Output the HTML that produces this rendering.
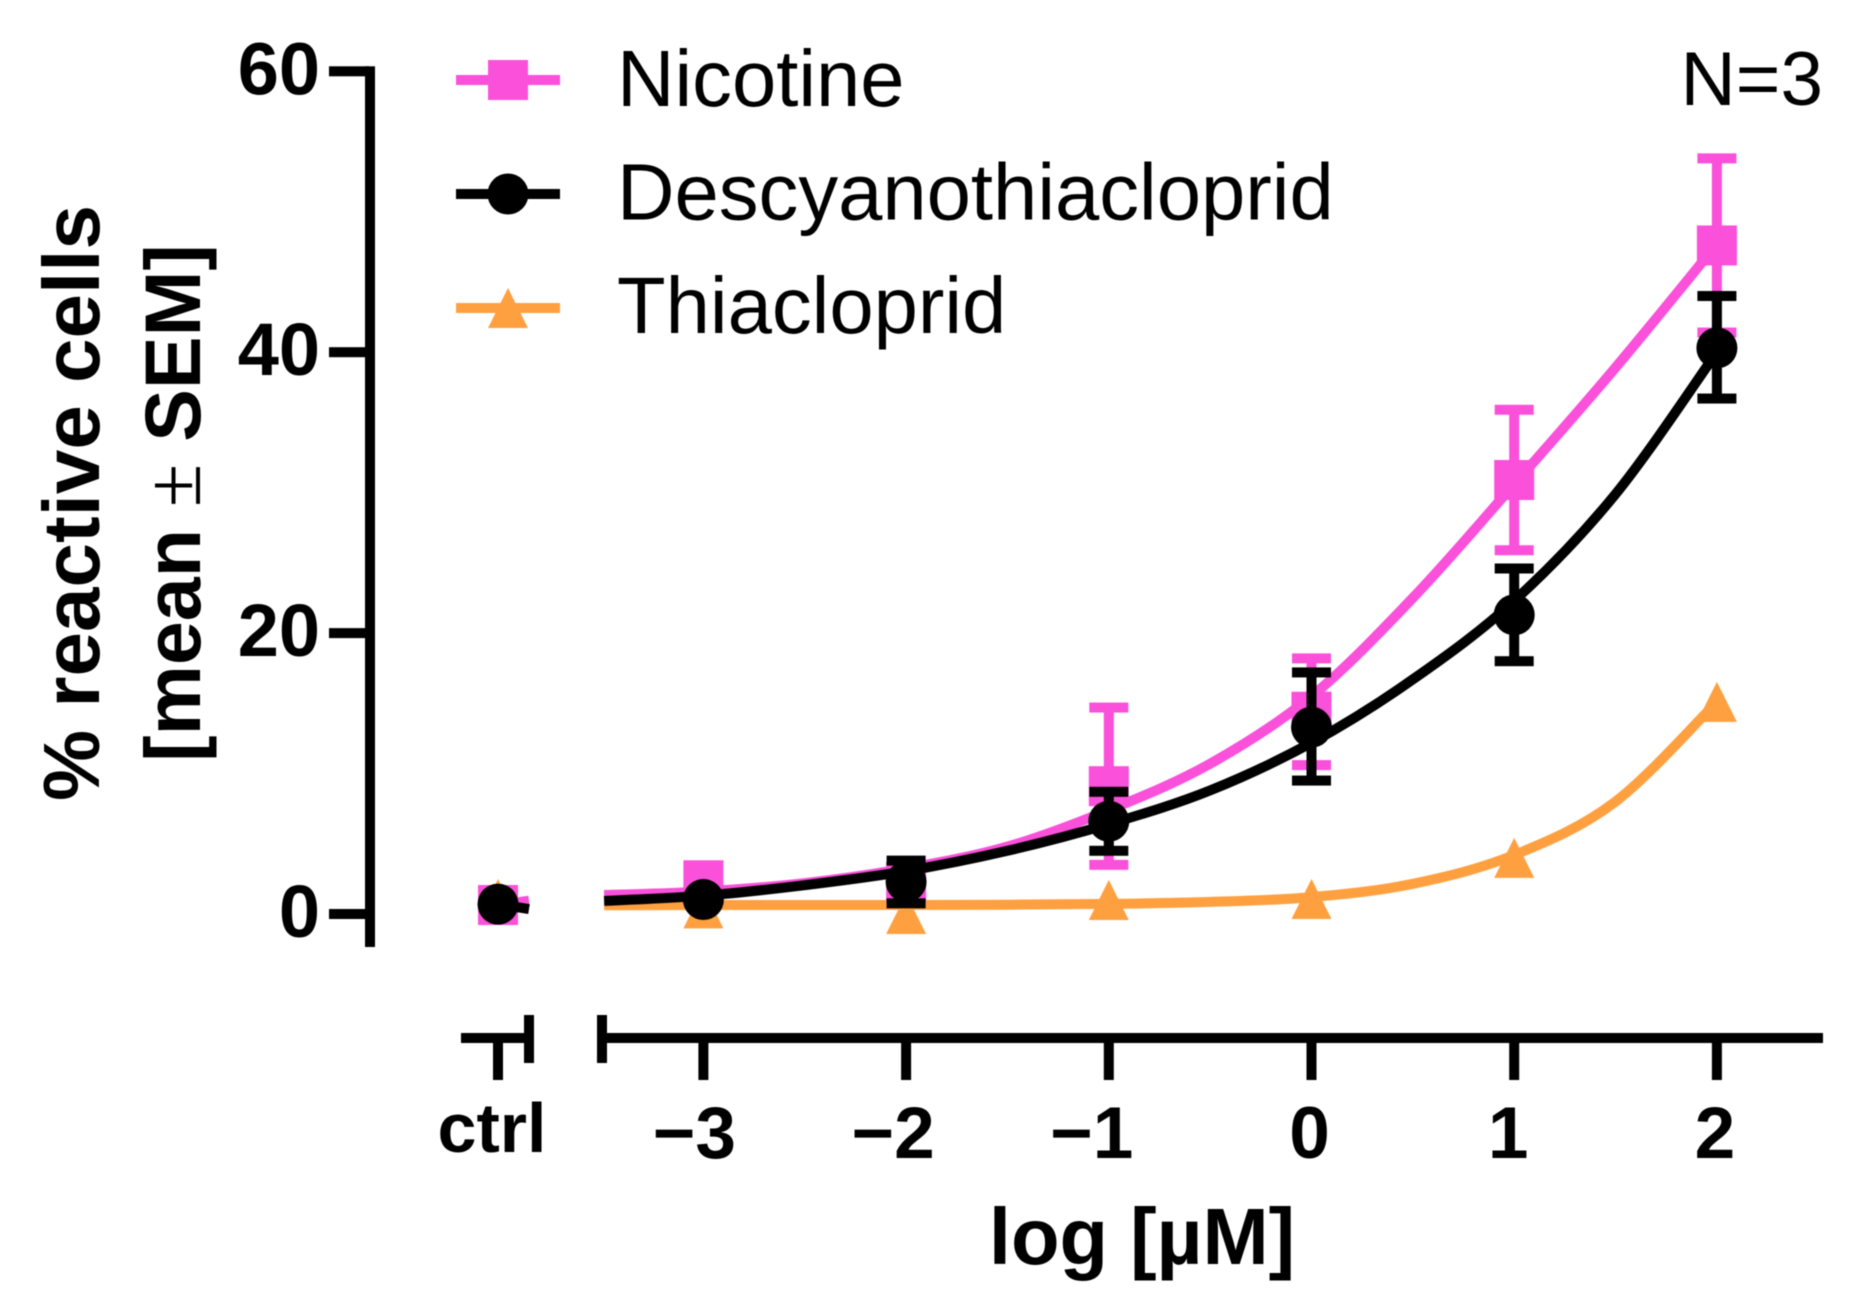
<!DOCTYPE html>
<html lang="en">
<head>
<meta charset="utf-8">
<title>Dose response: % reactive cells</title>
<style>
html,body{margin:0;padding:0;background:#fff;width:1854px;height:1307px;overflow:hidden}
svg{display:block;font-family:"Liberation Sans",Arial,sans-serif;filter:blur(0.6px)}
</style>
</head>
<body>
<svg id="chart" xmlns="http://www.w3.org/2000/svg" width="1854" height="1307" viewBox="0 0 1854 1307">
  <rect x="0" y="0" width="1854" height="1307" fill="#fff"/>
  <g id="axes"></g>
  <g id="series"></g>
  <text transform="translate(99,503) rotate(-90)" text-anchor="middle" font-size="80" font-weight="700" fill="#000">% reactive cells</text>
  <text transform="translate(200,503) rotate(-90)" text-anchor="middle" font-size="79" font-weight="700" fill="#000">[mean <tspan font-weight="400" font-family="'Liberation Serif',serif">±</tspan> SEM]</text>
  <text x="1142" y="1264" text-anchor="middle" font-size="79.5" font-weight="700" fill="#000">log [µM]</text>
  <text x="1823" y="105" text-anchor="end" font-size="76.5" fill="#000">N=3</text>
  <g id="legend"></g>
</svg>
<script>
// ---- data ----
const yTicks = [0, 20, 40, 60];
const xTicks = [-3, -2, -1, 0, 1, 2];
const xTickLabels = ['\u22123', '\u22122', '\u22121', '0', '1', '2'];
const ctrlLabel = 'ctrl';

const nicotineMean = [2.4, 2.3, 9.1, 14.4, 30.9, 47.6];
const nicotineUpper = [2.4, 3.4, 14.7, 18.2, 35.9, 53.8];
const nicotineLower = [2.4, 1.2, 3.5, 10.6, 25.9, 41.4];
const nicotineCtrl = 0.64;
const nicotineCurve = [1.35, 1.6, 2.2, 3.25, 4.8, 7.4, 10.7, 15.5, 22.5, 30.6, 38.9, 47.7];

const descyanoMean = [1.03, 2.3, 6.6, 13.3, 21.3, 40.3];
const descyanoUpper = [1.03, 3.8, 8.7, 17.2, 24.6, 44.0];
const descyanoLower = [1.03, 0.76, 4.5, 9.5, 18.0, 36.7];
const descyanoCtrl = 0.7;
const descyanoCurve = [0.93, 1.3, 2.05, 3.05, 4.5, 6.4, 8.8, 12.2, 16.7, 22.3, 29.9, 40.0];

const thiaclopridMean = [0.4, 0.0, 1.0, 1.07, 4.0, 15.1];
const thiaclopridCtrl = 1.07;
const thiaclopridCurve = [0.62, 0.64, 0.64, 0.64, 0.66, 0.72, 0.86, 1.2, 2.15, 4.2, 8.0, 15.1];

const curveLogs = [-3.49, -3, -2.5, -2, -1.5, -1, -0.5, 0, 0.5, 1, 1.5, 2];
const nicotineStub = [0.64, 0.95];
const descyanoStub = [0.7, 0.35];

const legendNames = ['Nicotine', 'Descyanothiacloprid', 'Thiacloprid'];

// ---- axis functions ----
const PINK = '#fa50da', ORANGE = '#ffa040', BLACK = '#000';
const yScale = v => 914 - v * 14.045;
const xScale = v => 1311.5 + v * 202.7;
const CTRL_X = 498;
const STUB_END_X = 529;
const NS = 'http://www.w3.org/2000/svg';
const labelNudge = {'-3': -9, '-2': -13, '-1': -17, '0': -2, '1': -6, '2': -2};

function make(parent, tag, attrs, text) {
  const node = document.createElementNS(NS, tag);
  for (const k in attrs) node.setAttribute(k, attrs[k]);
  if (text !== undefined) node.textContent = text;
  parent.appendChild(node);
  return node;
}

function smoothPath(pts) {
  let d = 'M' + pts[0][0].toFixed(1) + ' ' + pts[0][1].toFixed(1);
  for (let i = 0; i < pts.length - 1; i++) {
    const p0 = pts[Math.max(i - 1, 0)], p1 = pts[i], p2 = pts[i + 1], p3 = pts[Math.min(i + 2, pts.length - 1)];
    const c1x = p1[0] + (p2[0] - p0[0]) / 6, c1y = p1[1] + (p2[1] - p0[1]) / 6;
    const c2x = p2[0] - (p3[0] - p1[0]) / 6, c2y = p2[1] - (p3[1] - p1[1]) / 6;
    d += 'C' + c1x.toFixed(1) + ' ' + c1y.toFixed(1) + ' ' + c2x.toFixed(1) + ' ' + c2y.toFixed(1) + ' ' + p2[0].toFixed(1) + ' ' + p2[1].toFixed(1);
  }
  return d;
}

function drawMarker(parent, shape, cx, cy, color, seriesName) {
  let m;
  if (shape === 'square') {
    m = make(parent, 'rect', {x: cx - 20, y: cy - 20, width: 40, height: 40, fill: color});
  } else if (shape === 'circle') {
    m = make(parent, 'circle', {cx: cx, cy: cy, r: 20.5, fill: color});
  } else {
    m = make(parent, 'polygon', {points: (cx) + ',' + (cy - 20) + ' ' + (cx + 20) + ',' + (cy + 20) + ' ' + (cx - 20) + ',' + (cy + 20), fill: color});
  }
  
  
  return m;
}

// ---- axes ----
const axes = document.getElementById('axes');
const yLine = make(axes, 'rect', {x: 365, y: yScale(60) - 5, width: 10, height: yScale(0) + 33 - yScale(60) + 5, fill: BLACK});



yTicks.forEach(v => {
  const t = make(axes, 'rect', {x: 329, y: yScale(v) - 5, width: 40, height: 10, fill: BLACK});
  
  
  const l = make(axes, 'text', {x: 320, y: yScale(v) + 23, 'text-anchor': 'end', 'font-size': 74, 'font-weight': 700, fill: BLACK}, String(v));
  
  
});

const ctrlAxis = make(axes, 'rect', {x: 461, y: 1033, width: 68, height: 10, fill: BLACK});


const ctrlCap = make(axes, 'rect', {x: 524, y: 1015, width: 10, height: 48, fill: BLACK});


const ctrlTick = make(axes, 'rect', {x: CTRL_X - 5, y: 1038, width: 10, height: 42, fill: BLACK});


const ctrlText = make(axes, 'text', {x: 492, y: 1152, 'text-anchor': 'middle', 'font-size': 70, 'font-weight': 700, fill: BLACK}, ctrlLabel);



const mainAxis = make(axes, 'rect', {x: 602, y: 1033, width: 1221, height: 10, fill: BLACK});


const mainCap = make(axes, 'rect', {x: 597, y: 1015, width: 10, height: 48, fill: BLACK});



xTicks.forEach((v, i) => {
  const t = make(axes, 'rect', {x: xScale(v) - 5, y: 1038, width: 10, height: 42, fill: BLACK});
  
  
  const l = make(axes, 'text', {x: xScale(v) + labelNudge[v], y: 1158, 'text-anchor': 'middle', 'font-size': 73, 'font-weight': 700, fill: BLACK}, xTickLabels[i]);
  
  
});

// ---- series ----
const layer = document.getElementById('series');

function drawSeries(cfg) {
  const g = make(layer, 'g', {});
  
  

  const pts = curveLogs.map((x, i) => [xScale(x), yScale(cfg.curve[i])]);
  const line = make(g, 'path', {d: smoothPath(pts), fill: 'none', stroke: cfg.color, 'stroke-width': 10});
  
  

  if (cfg.stub) {
    const stub = make(g, 'line', {x1: CTRL_X, y1: yScale(cfg.stub[0]), x2: STUB_END_X, y2: yScale(cfg.stub[1]), stroke: cfg.color, 'stroke-width': 10});
    
    
  }

  xTicks.forEach((x, i) => {
    const cx = xScale(x);
    if (cfg.upper && cfg.upper[i] !== cfg.lower[i]) {
      const stem = make(g, 'line', {x1: cx, x2: cx, y1: yScale(cfg.upper[i]), y2: yScale(cfg.lower[i]), stroke: cfg.color, 'stroke-width': 10});
      
      
      [cfg.upper[i], cfg.lower[i]].forEach(v => {
        const cap = make(g, 'rect', {x: cx - 19.5, y: yScale(v) - 5, width: 39, height: 10, fill: cfg.color});
        
        
      });
    }
    drawMarker(g, cfg.shape, cx, yScale(cfg.mean[i]), cfg.color, cfg.name);
  });
  drawMarker(g, cfg.shape, CTRL_X, yScale(cfg.ctrl), cfg.color, cfg.name + '-ctrl');
}

drawSeries({name: 'thiacloprid', color: ORANGE, shape: 'triangle', mean: thiaclopridMean, ctrl: thiaclopridCtrl, curve: thiaclopridCurve});
drawSeries({name: 'nicotine', color: PINK, shape: 'square', mean: nicotineMean, upper: nicotineUpper, lower: nicotineLower, ctrl: nicotineCtrl, curve: nicotineCurve, stub: nicotineStub});
drawSeries({name: 'descyanothiacloprid', color: BLACK, shape: 'circle', mean: descyanoMean, upper: descyanoUpper, lower: descyanoLower, ctrl: descyanoCtrl, curve: descyanoCurve, stub: descyanoStub});

// ---- legend ----
const legend = document.getElementById('legend');
const legendColors = [PINK, BLACK, ORANGE];
const legendShapes = ['square', 'circle', 'triangle'];
legendNames.forEach((label, i) => {
  const cy = 80 + i * 114;
  const entry = make(legend, 'g', {});
  
  
  const swatch = make(entry, 'rect', {x: 456, y: cy - 5, width: 104, height: 10, fill: legendColors[i]});
  
  
  drawMarker(entry, legendShapes[i], 508, cy, legendColors[i], 'legend');
  const txt = make(entry, 'text', {x: 617, y: 106 + i * 113.5, 'font-size': 79.6, fill: BLACK}, label);
  
  
});
</script>
</body>
</html>
